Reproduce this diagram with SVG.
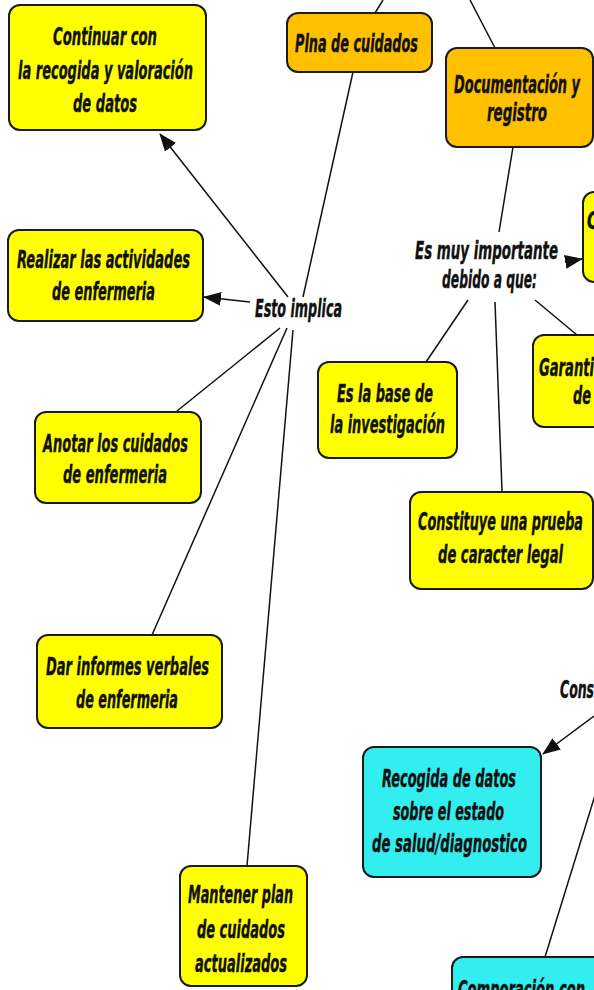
<svg xmlns="http://www.w3.org/2000/svg" width="594" height="990" viewBox="0 0 594 990">
<style>
.box{stroke:#1a1a1a;stroke-width:2}
.y{fill:#FFFF00}
.o{fill:#FFC000}
.c{fill:#33EEEE}
text{font-family:"DejaVu Sans","Liberation Sans",sans-serif;font-weight:bold;font-style:italic;font-stretch:condensed;font-size:24px;fill:#111;stroke:#111;stroke-width:0.4}
.m{text-anchor:middle}
.ln{stroke:#111;stroke-width:1.5;fill:none}
</style>
<defs>
<marker id="arr" viewBox="0 0 18 14" refX="17" refY="7" markerWidth="18" markerHeight="14" markerUnits="userSpaceOnUse" orient="auto">
<path d="M0,0 L18,7 L0,14 z" fill="#111"/>
</marker>
</defs>
<rect width="594" height="990" fill="#fff"/>
<g id="connectors">
<line class="ln" x1="383" y1="0" x2="375" y2="13"/>
<line class="ln" x1="470" y1="0" x2="495" y2="48"/>
<line class="ln" x1="353" y1="72" x2="303" y2="297"/>
<line class="ln" x1="513" y1="147" x2="499" y2="232"/>
<line class="ln" x1="288" y1="297" x2="160" y2="134" marker-end="url(#arr)"/>
<line class="ln" x1="250" y1="302" x2="204" y2="297" marker-end="url(#arr)"/>
<line class="ln" x1="280" y1="328" x2="177" y2="411"/>
<line class="ln" x1="287" y1="328" x2="152" y2="635"/>
<line class="ln" x1="293" y1="330" x2="247" y2="866"/>
<line class="ln" x1="565" y1="262" x2="582" y2="259" marker-end="url(#arr)"/>
<line class="ln" x1="468" y1="300" x2="426" y2="362"/>
<line class="ln" x1="495" y1="302" x2="502" y2="491"/>
<line class="ln" x1="535" y1="300" x2="577" y2="335"/>
<line class="ln" x1="594" y1="716" x2="543" y2="754" marker-end="url(#arr)"/>
<line class="ln" x1="596" y1="792" x2="545" y2="957"/>
</g>
<g id="continuar">
<rect class="box y" x="9" y="5" width="197" height="125" rx="11"/>
<text class="m" x="105" y="45" textLength="104" lengthAdjust="spacingAndGlyphs">Continuar con</text>
<text class="m" x="105.5" y="79" textLength="175" lengthAdjust="spacingAndGlyphs">la recogida y valoración</text>
<text class="m" x="105" y="112" textLength="64" lengthAdjust="spacingAndGlyphs">de datos</text>
</g>
<g id="plna">
<rect class="box o" x="287" y="13" width="145" height="59" rx="11"/>
<text class="m" x="356.5" y="52" textLength="123" lengthAdjust="spacingAndGlyphs">Plna de cuidados</text>
</g>
<g id="documentacion">
<rect class="box o" x="446" y="48" width="147" height="99" rx="11"/>
<text class="m" x="517" y="93" textLength="126" lengthAdjust="spacingAndGlyphs">Documentación y</text>
<text class="m" x="517" y="121" textLength="60" lengthAdjust="spacingAndGlyphs">registro</text>
</g>
<g id="esto-implica">
<text class="m" x="298.5" y="317" textLength="87" lengthAdjust="spacingAndGlyphs">Esto implica</text>
</g>
<g id="realizar">
<rect class="box y" x="8" y="230" width="195" height="91" rx="11"/>
<text class="m" x="103.5" y="268" textLength="173" lengthAdjust="spacingAndGlyphs">Realizar las actividades</text>
<text class="m" x="103.5" y="300" textLength="103" lengthAdjust="spacingAndGlyphs">de enfermeria</text>
</g>
<g id="anotar">
<rect class="box y" x="35" y="412" width="166" height="91" rx="11"/>
<text class="m" x="115.5" y="452" textLength="145" lengthAdjust="spacingAndGlyphs">Anotar los cuidados</text>
<text class="m" x="115" y="483" textLength="104" lengthAdjust="spacingAndGlyphs">de enfermeria</text>
</g>
<g id="dar-informes">
<rect class="box y" x="37" y="635" width="185" height="93" rx="11"/>
<text class="m" x="127.5" y="675" textLength="163" lengthAdjust="spacingAndGlyphs">Dar informes verbales</text>
<text class="m" x="127" y="708" textLength="102" lengthAdjust="spacingAndGlyphs">de enfermeria</text>
</g>
<g id="mantener">
<rect class="box y" x="180" y="866" width="127" height="120" rx="11"/>
<text class="m" x="240.5" y="903" textLength="105" lengthAdjust="spacingAndGlyphs">Mantener plan</text>
<text class="m" x="241" y="938" textLength="88" lengthAdjust="spacingAndGlyphs">de cuidados</text>
<text class="m" x="241" y="972" textLength="92" lengthAdjust="spacingAndGlyphs">actualizados</text>
</g>
<g id="es-muy-importante">
<text class="m" x="486.5" y="259" textLength="143" lengthAdjust="spacingAndGlyphs">Es muy importante</text>
<text class="m" x="489.5" y="288" textLength="95" lengthAdjust="spacingAndGlyphs">debido a que:</text>
</g>
<g id="c-node">
<rect class="box y" x="583" y="192" width="100" height="90" rx="11"/>
<text x="587" y="229" textLength="11" lengthAdjust="spacingAndGlyphs">C</text>
</g>
<g id="garanti">
<rect class="box y" x="533" y="335" width="120" height="92" rx="11"/>
<text x="539" y="376" textLength="55" lengthAdjust="spacingAndGlyphs">Garanti</text>
<text x="573" y="404" textLength="18" lengthAdjust="spacingAndGlyphs">de</text>
</g>
<g id="es-la-base">
<rect class="box y" x="318" y="362" width="139" height="96" rx="11"/>
<text class="m" x="385" y="402" textLength="96" lengthAdjust="spacingAndGlyphs">Es la base de</text>
<text class="m" x="387.5" y="433" textLength="115" lengthAdjust="spacingAndGlyphs">la investigación</text>
</g>
<g id="constituye">
<rect class="box y" x="410" y="492" width="183" height="97" rx="11"/>
<text class="m" x="500.5" y="530" textLength="165" lengthAdjust="spacingAndGlyphs">Constituye una prueba</text>
<text class="m" x="500.5" y="563" textLength="125" lengthAdjust="spacingAndGlyphs">de caracter legal</text>
</g>
<g id="cons">
<text x="560" y="698" textLength="34" lengthAdjust="spacingAndGlyphs">Cons</text>
</g>
<g id="recogida">
<rect class="box c" x="363" y="747" width="178" height="130" rx="11"/>
<text class="m" x="449" y="787" textLength="134" lengthAdjust="spacingAndGlyphs">Recogida de datos</text>
<text class="m" x="448.5" y="820" textLength="111" lengthAdjust="spacingAndGlyphs">sobre el estado</text>
<text class="m" x="449.5" y="852" textLength="155" lengthAdjust="spacingAndGlyphs">de salud/diagnostico</text>
</g>
<g id="comporacion">
<rect class="box c" x="452" y="957" width="160" height="60" rx="11"/>
<text x="458" y="998" textLength="127" lengthAdjust="spacingAndGlyphs">Comporación con</text>
</g>
</svg>
